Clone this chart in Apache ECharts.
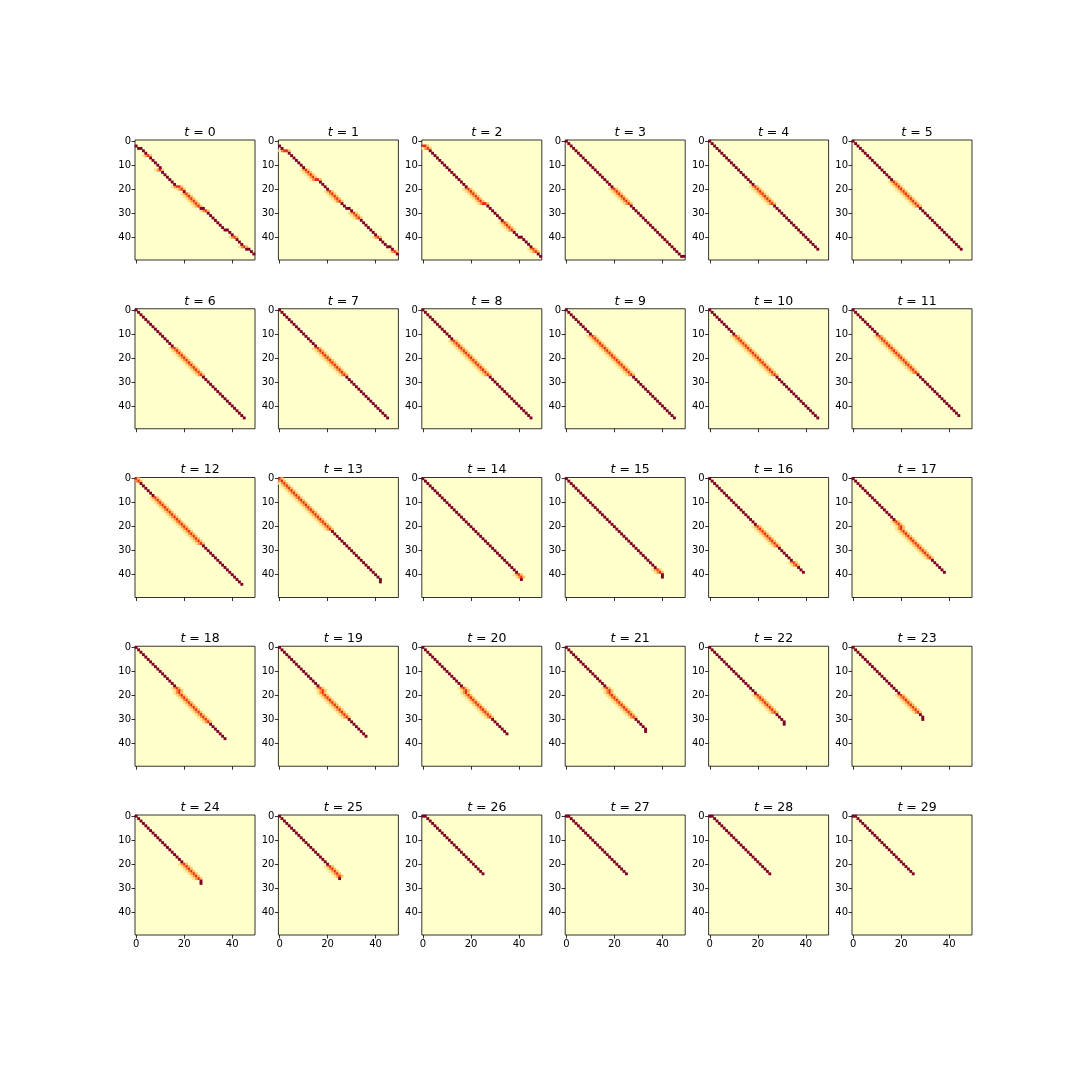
<!DOCTYPE html>
<html><head><meta charset="utf-8">
<script src="https://cdn.jsdelivr.net/npm/echarts@6/dist/echarts.min.js"></script>
<style>html,body{margin:0;padding:0;background:#fff}#c{width:1080px;height:1080px}</style>
</head><body><div id="c"></div>
<script>
// ---- data ----
const timeSteps = [0,1,2,3,4,5,6,7,8,9,10,11,12,13,14,15,16,17,18,19,20,21,22,23,24,25,26,27,28,29];
// first cell [row, col] of the alignment path in each panel
const pathStarts = [
  [2,0],[2,0],[2,0],[0,0],[0,0],[0,0],[0,0],[0,0],[0,0],[0,0],
  [0,0],[0,0],[0,0],[0,0],[0,0],[0,0],[0,0],[0,0],[0,0],[0,0],
  [0,0],[0,0],[0,0],[0,0],[0,0],[0,0],[0,0],[0,0],[0,0],[0,0]
];
// run-length path steps: d = down-right, v = down, h = right
const pathSteps = [
  "d1 h1 d8 v1 d7 h1 d9 h1 d9 h1 d8 h1 d2",
  "d2 h1 d12 h1 d12 h1 d16 h1 d3",
  "h1 d24 h1 d14 h1 d8",
  "d48 h1",
  "d45","d45","d45","d45","d45","d45",
  "d45","d44","d44","d42 v1","d41 v1","d40 v1",
  "d39","d20 v1 d18","d18 v1 d19","d18 v1 d18","d18 v1 d17","d18 v1 d15 v1",
  "d31 v1","d29 v1","d27 v1","d25 v1","h1 d24","h1 d24","h1 d24","h1 d24"
];
// row ranges where the weight is spread over neighbouring cells
const blurRows = [
  [[6,6],[12,12],[19,20],[22,27],[29,29],[40,40],[44,44]],
  [[4,4],[12,16],[21,25],[30,32],[40,40],[46,46]],
  [[2,3],[20,26],[34,37],[45,46]],
  [[20,26]],
  [[19,26]],[[17,27]],[[16,27]],[[16,27]],[[13,27]],[[11,27]],
  [[11,27]],[[11,26]],[[0,1],[8,27]],[[0,21]],[[40,41]],[[38,39]],
  [[20,28],[35,36]],[[18,33]],[[17,31]],[[17,29]],[[17,29]],[[17,29]],
  [[20,27]],[[20,27]],[[20,26]],[[21,25]],[],[],[],[]
];
const yTicks = [0,10,20,30,40];
const xTicks = [0,20,40];
const nCells = 50;
const peakValue = 1.0, spreadMain = 0.72, spreadLeft = 0.5, spreadRight = 0.32, spreadFar = 0.18;

// ---- build ----
const cats = Array.from({length:nCells},(_,i)=>String(i));
const ylorrd = ['#ffffcc','#ffeda0','#fed976','#feb24c','#fd8d3c','#fc4e2a','#e31a1c','#bd0026','#800026'];
const nCols = 6, nRows = 5;
const grids=[], xAxes=[], yAxes=[], series=[], titles=[];

function buildCells(k){
  const path=[]; let [r,c]=pathStarts[k]; path.push([r,c]);
  pathSteps[k].split(' ').filter(Boolean).forEach(tok=>{
    const kind=tok[0], n=parseInt(tok.slice(1),10);
    for(let i=0;i<n;i++){
      if(kind==='d'){r++;c++;} else if(kind==='v'){r++;} else {c++;}
      path.push([r,c]);
    }
  });
  const m=new Map();
  const put=(rr,cc,v)=>{ if(rr<0||cc<0||rr>=nCells||cc>=nCells) return; const key=rr+','+cc; if(!m.has(key)||m.get(key)<v) m.set(key,v); };
  const inBlur=(rr)=>blurRows[k].some(([a,b])=>rr>=a&&rr<=b);
  path.forEach(([rr,cc])=>{
    if(inBlur(rr)){ put(rr,cc,spreadMain); put(rr,cc-1,spreadLeft); put(rr,cc+1,spreadRight); put(rr,cc-2,spreadFar); }
  });
  path.forEach(([rr,cc])=>{ if(!inBlur(rr)) put(rr,cc,peakValue); });
  const out=[]; m.forEach((v,key)=>{const [rr,cc]=key.split(',').map(Number); out.push([cc,rr,v]);});
  return out;
}

timeSteps.forEach((t,k)=>{
  const col=k%nCols, row=Math.floor(k/nCols);
  const left=135+col*143.4, top=140+row*168.75, size=120;
  grids.push({left:left, top:top, width:size, height:size, show:true, backgroundColor:'#ffffcc', borderColor:'#000', borderWidth:0.8, containLabel:false});
  xAxes.push({type:'category', gridIndex:k, data:cats, boundaryGap:true,
    axisLine:{show:false}, splitLine:{show:false},
    axisTick:{show:true, alignWithLabel:true, length:3.5, lineStyle:{color:'#000',width:0.8}, interval:(i)=>xTicks.includes(i)},
    axisLabel:{show:row===nRows-1, interval:(i)=>xTicks.includes(i), color:'#000', fontFamily:'DejaVu Sans', fontSize:10, margin:4}
  });
  yAxes.push({type:'category', gridIndex:k, data:cats, inverse:true, boundaryGap:true,
    axisLine:{show:false}, splitLine:{show:false},
    axisTick:{show:true, alignWithLabel:true, length:3.5, lineStyle:{color:'#000',width:0.8}, interval:(i)=>yTicks.includes(i)},
    axisLabel:{show:true, interval:(i)=>yTicks.includes(i), color:'#000', fontFamily:'DejaVu Sans', fontSize:10, margin:4}
  });
  series.push({type:'heatmap', xAxisIndex:k, yAxisIndex:k, data:buildCells(k), itemStyle:{borderWidth:0}, emphasis:{disabled:true}, progressive:0});
  titles.push({text:'{i|t} = '+t, left:left+size/2, top:top-19, textAlign:'center',
    textStyle:{rich:{i:{fontStyle:'italic',fontFamily:'DejaVu Sans',fontSize:12.5,color:'#000'}}, fontFamily:'DejaVu Sans', fontSize:12.5, fontWeight:'normal', color:'#000'}});
});

const chart=echarts.init(document.getElementById('c'),null,{renderer:'canvas'});
chart.setOption({
  animation:false, backgroundColor:'#fff',
  title:titles, grid:grids, xAxis:xAxes, yAxis:yAxes,
  visualMap:{show:false, type:'continuous', min:0, max:1, inRange:{color:ylorrd}, seriesIndex:series.map((_,i)=>i)},
  series:series
});
</script></body></html>
